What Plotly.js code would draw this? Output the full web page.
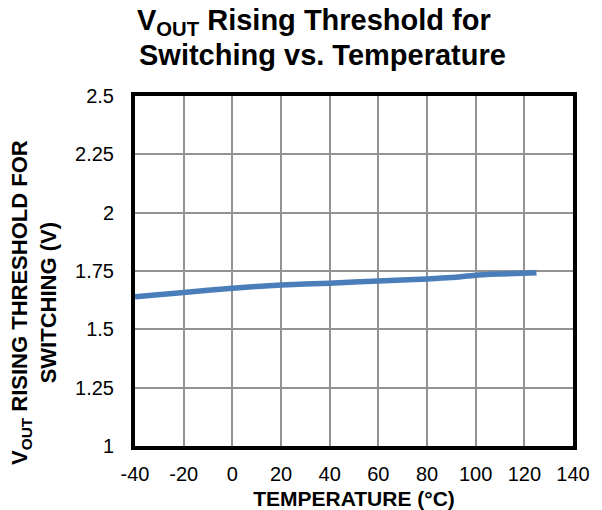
<!DOCTYPE html>
<html>
<head>
<meta charset="utf-8">
<script src="https://cdn.plot.ly/plotly-3.0.1.min.js"></script>
<style>html,body{margin:0;padding:0;background:#fff;}#chart{width:602px;height:510px;}</style>
</head>
<body>
<div id="chart"></div>
<script>
const temperatureC = [-40, -20, 0, 20, 40, 60, 80, 90, 100, 110, 125];
const voutRisingThreshold = [1.640, 1.658, 1.676, 1.690, 1.698, 1.707, 1.716, 1.722, 1.732, 1.737, 1.743];
const xTicks = [-40, -20, 0, 20, 40, 60, 80, 100, 120, 140];
const xTickLabels = ['-40', '-20', '0', '20', '40', '60', '80', '100', '120', '140'];
const yTicks = [1, 1.25, 1.5, 1.75, 2, 2.25, 2.5];
const yTickLabels = ['1', '1.25', '1.5', '1.75', '2', '2.25', '2.5'];

const FONT = '"Liberation Sans", Arial, Helvetica, sans-serif';

const trace = {
  x: temperatureC,
  y: voutRisingThreshold,
  type: 'scatter',
  mode: 'lines',
  line: {color: '#4A7EBB', width: 5.5, shape: 'spline', smoothing: 0.6},
  hoverinfo: 'skip',
  showlegend: false
};

const layout = {
  width: 602,
  height: 510,
  margin: {l: 135, r: 29, t: 96, b: 64, pad: 0},
  paper_bgcolor: '#ffffff',
  plot_bgcolor: '#ffffff',
  font: {family: FONT, color: '#000000'},
  title: {
    text: '<b>V<sub>OUT</sub> Rising Threshold for</b>',
    font: {family: FONT, size: 29, color: '#000000'},
    xref: 'container', x: 137 / 602, xanchor: 'left',
    yref: 'container', y: 1 - 20 / 510, yanchor: 'middle'
  },
  xaxis: {
    range: [-40, 140],
    tickmode: 'array', tickvals: xTicks, ticktext: xTickLabels,
    ticks: '', ticklabelstandoff: 7,
    tickfont: {family: FONT, size: 20, color: '#000000'},
    showgrid: true, gridcolor: '#939393', gridwidth: 2,
    zeroline: false,
    showline: true, linecolor: '#000000', linewidth: 4, mirror: true,
    title: {text: '<b>TEMPERATURE (°C)</b>', font: {family: FONT, size: 21, color: '#000000'}, standoff: 10},
    fixedrange: true
  },
  yaxis: {
    range: [1, 2.5],
    tickmode: 'array', tickvals: yTicks, ticktext: yTickLabels,
    ticks: '', ticklabelstandoff: 13,
    tickfont: {family: FONT, size: 20, color: '#000000'},
    showgrid: true, gridcolor: '#939393', gridwidth: 2,
    zeroline: false,
    showline: true, linecolor: '#000000', linewidth: 4, mirror: true,
    fixedrange: true
  },
  annotations: [
    {
      text: '<b>Switching vs. Temperature</b>',
      xref: 'paper', yref: 'paper',
      x: (137 - 135) / 438, xanchor: 'left',
      y: 1 + (96 - 55) / 350, yanchor: 'middle',
      showarrow: false,
      font: {family: FONT, size: 29, color: '#000000'}
    },
    {
      text: '<b>V<sub>OUT</sub> RISING THRESHOLD FOR<br>SWITCHING (V)</b>',
      xref: 'paper', yref: 'paper',
      x: (34 - 135) / 438, xanchor: 'center',
      y: (446 - 303) / 350, yanchor: 'middle',
      textangle: -90,
      align: 'center',
      showarrow: false,
      font: {family: FONT, size: 22, color: '#000000'}
    }
  ]
};

Plotly.newPlot('chart', [trace], layout, {staticPlot: true, displayModeBar: false});
</script>
</body>
</html>
